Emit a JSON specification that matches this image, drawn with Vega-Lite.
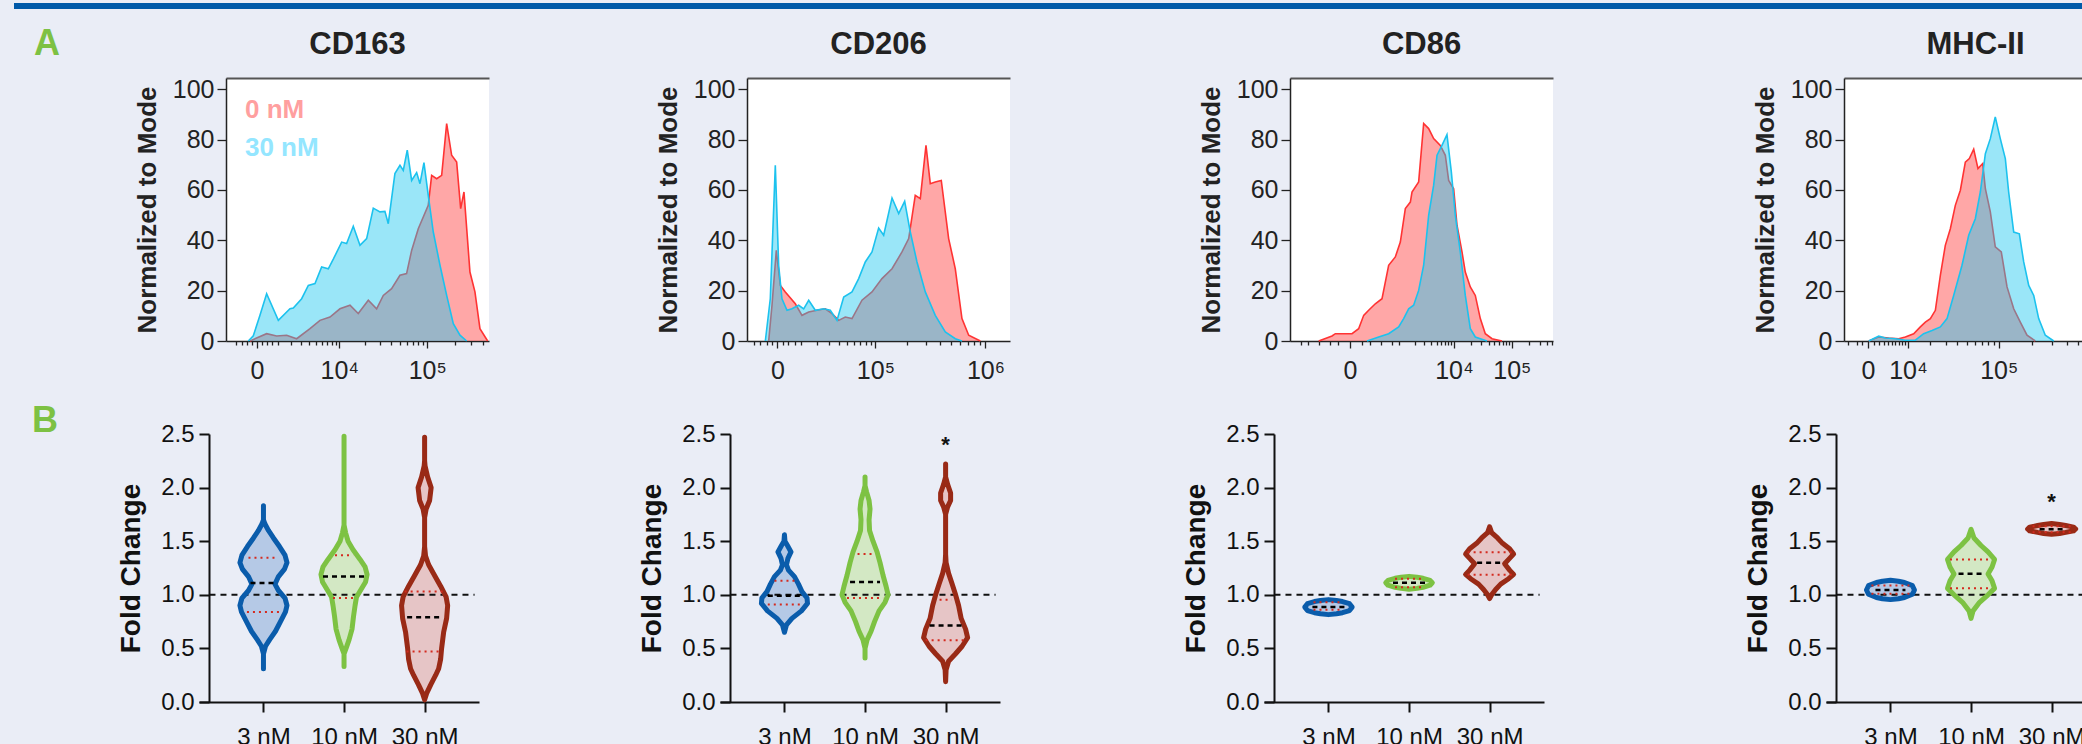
{
"$schema": "https://vega.github.io/schema/vega-lite/v6.json",
"background": "#EAEDF6",
"padding": {"left": 14, "top": 0, "right": 0, "bottom": 0},
"config": {"view": {"stroke": null}, "axis": {"grid": false}, "font": "Liberation Sans"},
"datasets": {
"hist": [
{"m":"CD163","s":"0 nM","x":-284,"y":0},{"m":"CD163","s":"0 nM","x":405,"y":2.9},{"m":"CD163","s":"0 nM","x":941,"y":2.0},{"m":"CD163","s":"0 nM","x":1626,"y":2.3},{"m":"CD163","s":"0 nM","x":2505,"y":0.9},{"m":"CD163","s":"0 nM","x":4070,"y":4.9},{"m":"CD163","s":"0 nM","x":5632,"y":8.2},{"m":"CD163","s":"0 nM","x":7638,"y":9.5},{"m":"CD163","s":"0 nM","x":10200,"y":12.8},{"m":"CD163","s":"0 nM","x":13500,"y":14.2},{"m":"CD163","s":"0 nM","x":16900,"y":10.9},{"m":"CD163","s":"0 nM","x":22100,"y":16.2},{"m":"CD163","s":"0 nM","x":27500,"y":12.8},{"m":"CD163","s":"0 nM","x":32700,"y":18.1},{"m":"CD163","s":"0 nM","x":40500,"y":20.8},{"m":"CD163","s":"0 nM","x":50200,"y":26.1},{"m":"CD163","s":"0 nM","x":59400,"y":26.8},{"m":"CD163","s":"0 nM","x":67500,"y":36.0},{"m":"CD163","s":"0 nM","x":79800,"y":44.6},{"m":"CD163","s":"0 nM","x":102600,"y":53.9},{"m":"CD163","s":"0 nM","x":111700,"y":65.8},{"m":"CD163","s":"0 nM","x":126700,"y":64.5},{"m":"CD163","s":"0 nM","x":143600,"y":65.8},{"m":"CD163","s":"0 nM","x":162700,"y":86.4},{"m":"CD163","s":"0 nM","x":184300,"y":73.8},{"m":"CD163","s":"0 nM","x":208800,"y":71.1},{"m":"CD163","s":"0 nM","x":230700,"y":52.6},{"m":"CD163","s":"0 nM","x":250500,"y":59.2},{"m":"CD163","s":"0 nM","x":290700,"y":27.4},{"m":"CD163","s":"0 nM","x":329200,"y":19.5},{"m":"CD163","s":"0 nM","x":372900,"y":4.9},{"m":"CD163","s":"0 nM","x":451500,"y":0},
{"m":"CD163","s":"30 nM","x":-360,"y":0},{"m":"CD163","s":"30 nM","x":-143,"y":2.1},{"m":"CD163","s":"30 nM","x":115,"y":10.2},{"m":"CD163","s":"30 nM","x":405,"y":18.8},{"m":"CD163","s":"30 nM","x":1044,"y":8.2},{"m":"CD163","s":"30 nM","x":1895,"y":12.8},{"m":"CD163","s":"30 nM","x":2186,"y":13.1},{"m":"CD163","s":"30 nM","x":3033,"y":16.8},{"m":"CD163","s":"30 nM","x":3846,"y":22.1},{"m":"CD163","s":"30 nM","x":4805,"y":22.8},{"m":"CD163","s":"30 nM","x":5937,"y":29.4},{"m":"CD163","s":"30 nM","x":7271,"y":28.7},{"m":"CD163","s":"30 nM","x":8420,"y":32.5},{"m":"CD163","s":"30 nM","x":10700,"y":39.3},{"m":"CD163","s":"30 nM","x":12300,"y":38.7},{"m":"CD163","s":"30 nM","x":14770,"y":45.6},{"m":"CD163","s":"30 nM","x":17700,"y":38.0},{"m":"CD163","s":"30 nM","x":21150,"y":40.7},{"m":"CD163","s":"30 nM","x":25200,"y":52.8},{"m":"CD163","s":"30 nM","x":30000,"y":51.3},{"m":"CD163","s":"30 nM","x":34100,"y":51.5},{"m":"CD163","s":"30 nM","x":37200,"y":46.6},{"m":"CD163","s":"30 nM","x":44100,"y":66.5},{"m":"CD163","s":"30 nM","x":50200,"y":69.8},{"m":"CD163","s":"30 nM","x":54600,"y":67.8},{"m":"CD163","s":"30 nM","x":60400,"y":75.8},{"m":"CD163","s":"30 nM","x":67500,"y":63.8},{"m":"CD163","s":"30 nM","x":76600,"y":66.9},{"m":"CD163","s":"30 nM","x":83300,"y":62.5},{"m":"CD163","s":"30 nM","x":92100,"y":70.9},{"m":"CD163","s":"30 nM","x":102600,"y":57.9},{"m":"CD163","s":"30 nM","x":116400,"y":43.3},{"m":"CD163","s":"30 nM","x":137700,"y":30.1},{"m":"CD163","s":"30 nM","x":162700,"y":18.1},{"m":"CD163","s":"30 nM","x":192000,"y":6.9},{"m":"CD163","s":"30 nM","x":226800,"y":2.3},{"m":"CD163","s":"30 nM","x":267800,"y":0},
{"m":"CD206","s":"0 nM","x":-3230,"y":0},{"m":"CD206","s":"0 nM","x":-1950,"y":14.2},{"m":"CD206","s":"0 nM","x":-400,"y":36.0},{"m":"CD206","s":"0 nM","x":985,"y":22.1},{"m":"CD206","s":"0 nM","x":2840,"y":19.5},{"m":"CD206","s":"0 nM","x":7170,"y":14.8},{"m":"CD206","s":"0 nM","x":10570,"y":10.2},{"m":"CD206","s":"0 nM","x":14470,"y":11.5},{"m":"CD206","s":"0 nM","x":20060,"y":12.2},{"m":"CD206","s":"0 nM","x":26620,"y":12.8},{"m":"CD206","s":"0 nM","x":32800,"y":10.9},{"m":"CD206","s":"0 nM","x":39790,"y":8.2},{"m":"CD206","s":"0 nM","x":47690,"y":9.5},{"m":"CD206","s":"0 nM","x":56830,"y":8.9},{"m":"CD206","s":"0 nM","x":72830,"y":16.2},{"m":"CD206","s":"0 nM","x":92410,"y":19.5},{"m":"CD206","s":"0 nM","x":116100,"y":24.8},{"m":"CD206","s":"0 nM","x":145200,"y":28.7},{"m":"CD206","s":"0 nM","x":180300,"y":35.4},{"m":"CD206","s":"0 nM","x":208100,"y":40.7},{"m":"CD206","s":"0 nM","x":239100,"y":57.9},{"m":"CD206","s":"0 nM","x":265800,"y":56.6},{"m":"CD206","s":"0 nM","x":299200,"y":77.7},{"m":"CD206","s":"0 nM","x":327100,"y":62.5},{"m":"CD206","s":"0 nM","x":362500,"y":63.2},{"m":"CD206","s":"0 nM","x":410000,"y":63.8},{"m":"CD206","s":"0 nM","x":476600,"y":40.7},{"m":"CD206","s":"0 nM","x":545500,"y":28.7},{"m":"CD206","s":"0 nM","x":624200,"y":8.9},{"m":"CD206","s":"0 nM","x":714800,"y":2.3},{"m":"CD206","s":"0 nM","x":902900,"y":0},
{"m":"CD206","s":"30 nM","x":-4620,"y":0},{"m":"CD206","s":"30 nM","x":-2600,"y":16.8},{"m":"CD206","s":"30 nM","x":-750,"y":69.8},{"m":"CD206","s":"30 nM","x":400,"y":30.1},{"m":"CD206","s":"30 nM","x":1575,"y":16.8},{"m":"CD206","s":"30 nM","x":3510,"y":12.2},{"m":"CD206","s":"30 nM","x":5640,"y":12.8},{"m":"CD206","s":"30 nM","x":8820,"y":14.2},{"m":"CD206","s":"30 nM","x":11510,"y":12.8},{"m":"CD206","s":"30 nM","x":14470,"y":16.2},{"m":"CD206","s":"30 nM","x":18850,"y":12.2},{"m":"CD206","s":"30 nM","x":25290,"y":12.8},{"m":"CD206","s":"30 nM","x":31140,"y":12.2},{"m":"CD206","s":"30 nM","x":37950,"y":8.2},{"m":"CD206","s":"30 nM","x":45710,"y":17.5},{"m":"CD206","s":"30 nM","x":56830,"y":19.5},{"m":"CD206","s":"30 nM","x":67170,"y":24.8},{"m":"CD206","s":"30 nM","x":78870,"y":31.4},{"m":"CD206","s":"30 nM","x":92410,"y":35.4},{"m":"CD206","s":"30 nM","x":107700,"y":44.9},{"m":"CD206","s":"30 nM","x":120600,"y":42.0},{"m":"CD206","s":"30 nM","x":145200,"y":56.8},{"m":"CD206","s":"30 nM","x":167900,"y":50.6},{"m":"CD206","s":"30 nM","x":191000,"y":55.5},{"m":"CD206","s":"30 nM","x":215300,"y":43.3},{"m":"CD206","s":"30 nM","x":247900,"y":31.4},{"m":"CD206","s":"30 nM","x":295000,"y":19.5},{"m":"CD206","s":"30 nM","x":362500,"y":10.2},{"m":"CD206","s":"30 nM","x":445100,"y":3.6},{"m":"CD206","s":"30 nM","x":545500,"y":0.9},{"m":"CD206","s":"30 nM","x":624200,"y":0},
{"m":"CD86","s":"0 nM","x":-409,"y":0},{"m":"CD86","s":"0 nM","x":-173,"y":2.0},{"m":"CD86","s":"0 nM","x":-131,"y":2.9},{"m":"CD86","s":"0 nM","x":14,"y":2.9},{"m":"CD86","s":"0 nM","x":68,"y":4.9},{"m":"CD86","s":"0 nM","x":120,"y":10.2},{"m":"CD86","s":"0 nM","x":182,"y":12.2},{"m":"CD86","s":"0 nM","x":287,"y":14.8},{"m":"CD86","s":"0 nM","x":425,"y":16.8},{"m":"CD86","s":"0 nM","x":603,"y":30.1},{"m":"CD86","s":"0 nM","x":835,"y":33.4},{"m":"CD86","s":"0 nM","x":1054,"y":39.3},{"m":"CD86","s":"0 nM","x":1321,"y":52.6},{"m":"CD86","s":"0 nM","x":1647,"y":55.2},{"m":"CD86","s":"0 nM","x":1770,"y":59.2},{"m":"CD86","s":"0 nM","x":2353,"y":63.2},{"m":"CD86","s":"0 nM","x":2904,"y":86.4},{"m":"CD86","s":"0 nM","x":3574,"y":84.4},{"m":"CD86","s":"0 nM","x":4392,"y":80.4},{"m":"CD86","s":"0 nM","x":5762,"y":77.7},{"m":"CD86","s":"0 nM","x":7064,"y":73.8},{"m":"CD86","s":"0 nM","x":8083,"y":63.8},{"m":"CD86","s":"0 nM","x":9886,"y":60.5},{"m":"CD86","s":"0 nM","x":11306,"y":46.0},{"m":"CD86","s":"0 nM","x":13810,"y":35.4},{"m":"CD86","s":"0 nM","x":15760,"y":27.4},{"m":"CD86","s":"0 nM","x":19250,"y":21.5},{"m":"CD86","s":"0 nM","x":23480,"y":18.1},{"m":"CD86","s":"0 nM","x":28660,"y":8.9},{"m":"CD86","s":"0 nM","x":34940,"y":2.9},{"m":"CD86","s":"0 nM","x":45660,"y":0.9},{"m":"CD86","s":"0 nM","x":67750,"y":0},
{"m":"CD86","s":"30 nM","x":160,"y":0},{"m":"CD86","s":"30 nM","x":352,"y":1.6},{"m":"CD86","s":"30 nM","x":603,"y":2.9},{"m":"CD86","s":"30 nM","x":976,"y":5.6},{"m":"CD86","s":"30 nM","x":1226,"y":8.9},{"m":"CD86","s":"30 nM","x":1530,"y":12.8},{"m":"CD86","s":"30 nM","x":1900,"y":14.2},{"m":"CD86","s":"30 nM","x":2353,"y":20.1},{"m":"CD86","s":"30 nM","x":2904,"y":30.1},{"m":"CD86","s":"30 nM","x":3574,"y":49.9},{"m":"CD86","s":"30 nM","x":4392,"y":61.9},{"m":"CD86","s":"30 nM","x":5043,"y":73.8},{"m":"CD86","s":"30 nM","x":6162,"y":77.7},{"m":"CD86","s":"30 nM","x":7548,"y":82.0},{"m":"CD86","s":"30 nM","x":9001,"y":67.2},{"m":"CD86","s":"30 nM","x":10570,"y":49.9},{"m":"CD86","s":"30 nM","x":12900,"y":35.4},{"m":"CD86","s":"30 nM","x":15760,"y":18.1},{"m":"CD86","s":"30 nM","x":19250,"y":4.9},{"m":"CD86","s":"30 nM","x":23480,"y":1.6},{"m":"CD86","s":"30 nM","x":37360,"y":0},
{"m":"MHC-II","s":"0 nM","x":111,"y":0},{"m":"MHC-II","s":"0 nM","x":1960,"y":1.6},{"m":"MHC-II","s":"0 nM","x":4207,"y":1.2},{"m":"MHC-II","s":"0 nM","x":6935,"y":0.9},{"m":"MHC-II","s":"0 nM","x":9070,"y":1.6},{"m":"MHC-II","s":"0 nM","x":12160,"y":2.9},{"m":"MHC-II","s":"0 nM","x":15030,"y":5.6},{"m":"MHC-II","s":"0 nM","x":17440,"y":7.5},{"m":"MHC-II","s":"0 nM","x":20090,"y":8.9},{"m":"MHC-II","s":"0 nM","x":23020,"y":12.2},{"m":"MHC-II","s":"0 nM","x":26240,"y":26.1},{"m":"MHC-II","s":"0 nM","x":29770,"y":38.0},{"m":"MHC-II","s":"0 nM","x":33710,"y":44.6},{"m":"MHC-II","s":"0 nM","x":38010,"y":53.9},{"m":"MHC-II","s":"0 nM","x":42800,"y":59.9},{"m":"MHC-II","s":"0 nM","x":48020,"y":71.1},{"m":"MHC-II","s":"0 nM","x":52600,"y":72.5},{"m":"MHC-II","s":"0 nM","x":58020,"y":76.2},{"m":"MHC-II","s":"0 nM","x":63820,"y":68.5},{"m":"MHC-II","s":"0 nM","x":70850,"y":70.5},{"m":"MHC-II","s":"0 nM","x":75000,"y":60.5},{"m":"MHC-II","s":"0 nM","x":83480,"y":51.3},{"m":"MHC-II","s":"0 nM","x":92800,"y":37.4},{"m":"MHC-II","s":"0 nM","x":105400,"y":35.4},{"m":"MHC-II","s":"0 nM","x":118900,"y":21.5},{"m":"MHC-II","s":"0 nM","x":136600,"y":12.8},{"m":"MHC-II","s":"0 nM","x":156500,"y":7.5},{"m":"MHC-II","s":"0 nM","x":179500,"y":2.3},{"m":"MHC-II","s":"0 nM","x":212600,"y":0},
{"m":"MHC-II","s":"30 nM","x":111,"y":0},{"m":"MHC-II","s":"30 nM","x":1960,"y":1.9},{"m":"MHC-II","s":"30 nM","x":3407,"y":1.2},{"m":"MHC-II","s":"30 nM","x":5966,"y":0.9},{"m":"MHC-II","s":"30 nM","x":9070,"y":0.3},{"m":"MHC-II","s":"30 nM","x":12850,"y":0.3},{"m":"MHC-II","s":"30 nM","x":16600,"y":2.9},{"m":"MHC-II","s":"30 nM","x":21040,"y":4.2},{"m":"MHC-II","s":"30 nM","x":26240,"y":5.6},{"m":"MHC-II","s":"30 nM","x":31060,"y":8.9},{"m":"MHC-II","s":"30 nM","x":36540,"y":18.1},{"m":"MHC-II","s":"30 nM","x":44470,"y":30.1},{"m":"MHC-II","s":"30 nM","x":51870,"y":42.0},{"m":"MHC-II","s":"30 nM","x":60170,"y":48.6},{"m":"MHC-II","s":"30 nM","x":67210,"y":59.2},{"m":"MHC-II","s":"30 nM","x":75000,"y":74.4},{"m":"MHC-II","s":"30 nM","x":83480,"y":80.4},{"m":"MHC-II","s":"30 nM","x":92800,"y":89.0},{"m":"MHC-II","s":"30 nM","x":103200,"y":80.4},{"m":"MHC-II","s":"30 nM","x":114700,"y":72.5},{"m":"MHC-II","s":"30 nM","x":123000,"y":59.2},{"m":"MHC-II","s":"30 nM","x":136600,"y":43.3},{"m":"MHC-II","s":"30 nM","x":153400,"y":42.6},{"m":"MHC-II","s":"30 nM","x":167800,"y":31.4},{"m":"MHC-II","s":"30 nM","x":185900,"y":22.1},{"m":"MHC-II","s":"30 nM","x":205800,"y":18.1},{"m":"MHC-II","s":"30 nM","x":227600,"y":8.9},{"m":"MHC-II","s":"30 nM","x":260100,"y":2.3},{"m":"MHC-II","s":"30 nM","x":308000,"y":0}
],
"vio": [
{"m":"CD163","c":"3 nM","fc":0.31,"lo":1,"hi":1},{"m":"CD163","c":"3 nM","fc":0.45,"lo":1,"hi":1},{"m":"CD163","c":"3 nM","fc":0.52,"lo":0.975,"hi":1.025},{"m":"CD163","c":"3 nM","fc":0.58,"lo":0.925,"hi":1.075},{"m":"CD163","c":"3 nM","fc":0.66,"lo":0.851,"hi":1.149},{"m":"CD163","c":"3 nM","fc":0.75,"lo":0.789,"hi":1.211},{"m":"CD163","c":"3 nM","fc":0.84,"lo":0.727,"hi":1.273},{"m":"CD163","c":"3 nM","fc":0.90,"lo":0.708,"hi":1.292},{"m":"CD163","c":"3 nM","fc":0.97,"lo":0.733,"hi":1.267},{"m":"CD163","c":"3 nM","fc":1.04,"lo":0.814,"hi":1.186},{"m":"CD163","c":"3 nM","fc":1.10,"lo":0.857,"hi":1.143},{"m":"CD163","c":"3 nM","fc":1.17,"lo":0.814,"hi":1.186},{"m":"CD163","c":"3 nM","fc":1.24,"lo":0.739,"hi":1.261},{"m":"CD163","c":"3 nM","fc":1.30,"lo":0.708,"hi":1.292},{"m":"CD163","c":"3 nM","fc":1.37,"lo":0.733,"hi":1.267},{"m":"CD163","c":"3 nM","fc":1.45,"lo":0.801,"hi":1.199},{"m":"CD163","c":"3 nM","fc":1.53,"lo":0.876,"hi":1.124},{"m":"CD163","c":"3 nM","fc":1.60,"lo":0.938,"hi":1.062},{"m":"CD163","c":"3 nM","fc":1.66,"lo":0.981,"hi":1.019},{"m":"CD163","c":"3 nM","fc":1.70,"lo":1,"hi":1},{"m":"CD163","c":"3 nM","fc":1.83,"lo":1,"hi":1},
{"m":"CD163","c":"10 nM","fc":0.33,"lo":2,"hi":2},{"m":"CD163","c":"10 nM","fc":0.45,"lo":2,"hi":2},{"m":"CD163","c":"10 nM","fc":0.50,"lo":1.975,"hi":2.025},{"m":"CD163","c":"10 nM","fc":0.58,"lo":1.938,"hi":2.062},{"m":"CD163","c":"10 nM","fc":0.68,"lo":1.901,"hi":2.099},{"m":"CD163","c":"10 nM","fc":0.80,"lo":1.882,"hi":2.118},{"m":"CD163","c":"10 nM","fc":0.90,"lo":1.863,"hi":2.137},{"m":"CD163","c":"10 nM","fc":0.98,"lo":1.845,"hi":2.155},{"m":"CD163","c":"10 nM","fc":1.05,"lo":1.789,"hi":2.211},{"m":"CD163","c":"10 nM","fc":1.12,"lo":1.733,"hi":2.267},{"m":"CD163","c":"10 nM","fc":1.19,"lo":1.714,"hi":2.286},{"m":"CD163","c":"10 nM","fc":1.26,"lo":1.739,"hi":2.261},{"m":"CD163","c":"10 nM","fc":1.33,"lo":1.801,"hi":2.199},{"m":"CD163","c":"10 nM","fc":1.42,"lo":1.888,"hi":2.112},{"m":"CD163","c":"10 nM","fc":1.50,"lo":1.950,"hi":2.050},{"m":"CD163","c":"10 nM","fc":1.58,"lo":1.981,"hi":2.019},{"m":"CD163","c":"10 nM","fc":1.65,"lo":2,"hi":2},{"m":"CD163","c":"10 nM","fc":2.48,"lo":2,"hi":2},
{"m":"CD163","c":"30 nM","fc":0.02,"lo":3,"hi":3},{"m":"CD163","c":"30 nM","fc":0.08,"lo":2.975,"hi":3.025},{"m":"CD163","c":"30 nM","fc":0.16,"lo":2.925,"hi":3.075},{"m":"CD163","c":"30 nM","fc":0.25,"lo":2.863,"hi":3.137},{"m":"CD163","c":"30 nM","fc":0.31,"lo":2.826,"hi":3.174},{"m":"CD163","c":"30 nM","fc":0.40,"lo":2.801,"hi":3.199},{"m":"CD163","c":"30 nM","fc":0.50,"lo":2.789,"hi":3.211},{"m":"CD163","c":"30 nM","fc":0.65,"lo":2.764,"hi":3.236},{"m":"CD163","c":"30 nM","fc":0.78,"lo":2.727,"hi":3.273},{"m":"CD163","c":"30 nM","fc":0.90,"lo":2.714,"hi":3.286},{"m":"CD163","c":"30 nM","fc":0.98,"lo":2.733,"hi":3.267},{"m":"CD163","c":"30 nM","fc":1.08,"lo":2.801,"hi":3.199},{"m":"CD163","c":"30 nM","fc":1.18,"lo":2.876,"hi":3.124},{"m":"CD163","c":"30 nM","fc":1.28,"lo":2.950,"hi":3.050},{"m":"CD163","c":"30 nM","fc":1.36,"lo":2.988,"hi":3.012},{"m":"CD163","c":"30 nM","fc":1.45,"lo":3,"hi":3},{"m":"CD163","c":"30 nM","fc":1.72,"lo":3,"hi":3},{"m":"CD163","c":"30 nM","fc":1.80,"lo":2.981,"hi":3.019},{"m":"CD163","c":"30 nM","fc":1.88,"lo":2.938,"hi":3.062},{"m":"CD163","c":"30 nM","fc":2.00,"lo":2.919,"hi":3.081},{"m":"CD163","c":"30 nM","fc":2.10,"lo":2.963,"hi":3.037},{"m":"CD163","c":"30 nM","fc":2.20,"lo":2.994,"hi":3.006},{"m":"CD163","c":"30 nM","fc":2.25,"lo":3,"hi":3},{"m":"CD163","c":"30 nM","fc":2.47,"lo":3,"hi":3},
{"m":"CD206","c":"3 nM","fc":0.65,"lo":1,"hi":1},{"m":"CD206","c":"3 nM","fc":0.72,"lo":0.975,"hi":1.025},{"m":"CD206","c":"3 nM","fc":0.78,"lo":0.907,"hi":1.093},{"m":"CD206","c":"3 nM","fc":0.85,"lo":0.789,"hi":1.211},{"m":"CD206","c":"3 nM","fc":0.92,"lo":0.714,"hi":1.286},{"m":"CD206","c":"3 nM","fc":0.97,"lo":0.720,"hi":1.280},{"m":"CD206","c":"3 nM","fc":1.03,"lo":0.783,"hi":1.217},{"m":"CD206","c":"3 nM","fc":1.10,"lo":0.826,"hi":1.174},{"m":"CD206","c":"3 nM","fc":1.17,"lo":0.876,"hi":1.124},{"m":"CD206","c":"3 nM","fc":1.23,"lo":0.950,"hi":1.050},{"m":"CD206","c":"3 nM","fc":1.28,"lo":0.975,"hi":1.025},{"m":"CD206","c":"3 nM","fc":1.34,"lo":0.957,"hi":1.043},{"m":"CD206","c":"3 nM","fc":1.40,"lo":0.919,"hi":1.081},{"m":"CD206","c":"3 nM","fc":1.46,"lo":0.963,"hi":1.037},{"m":"CD206","c":"3 nM","fc":1.50,"lo":0.994,"hi":1.006},{"m":"CD206","c":"3 nM","fc":1.56,"lo":1,"hi":1},
{"m":"CD206","c":"10 nM","fc":0.41,"lo":2,"hi":2},{"m":"CD206","c":"10 nM","fc":0.50,"lo":2,"hi":2},{"m":"CD206","c":"10 nM","fc":0.58,"lo":1.975,"hi":2.025},{"m":"CD206","c":"10 nM","fc":0.66,"lo":1.925,"hi":2.075},{"m":"CD206","c":"10 nM","fc":0.75,"lo":1.882,"hi":2.118},{"m":"CD206","c":"10 nM","fc":0.85,"lo":1.826,"hi":2.174},{"m":"CD206","c":"10 nM","fc":0.93,"lo":1.752,"hi":2.248},{"m":"CD206","c":"10 nM","fc":1.00,"lo":1.714,"hi":2.286},{"m":"CD206","c":"10 nM","fc":1.08,"lo":1.739,"hi":2.261},{"m":"CD206","c":"10 nM","fc":1.18,"lo":1.776,"hi":2.224},{"m":"CD206","c":"10 nM","fc":1.30,"lo":1.814,"hi":2.186},{"m":"CD206","c":"10 nM","fc":1.40,"lo":1.851,"hi":2.149},{"m":"CD206","c":"10 nM","fc":1.50,"lo":1.901,"hi":2.099},{"m":"CD206","c":"10 nM","fc":1.60,"lo":1.944,"hi":2.056},{"m":"CD206","c":"10 nM","fc":1.70,"lo":1.950,"hi":2.050},{"m":"CD206","c":"10 nM","fc":1.80,"lo":1.938,"hi":2.062},{"m":"CD206","c":"10 nM","fc":1.88,"lo":1.950,"hi":2.050},{"m":"CD206","c":"10 nM","fc":1.96,"lo":1.981,"hi":2.019},{"m":"CD206","c":"10 nM","fc":2.02,"lo":2,"hi":2},{"m":"CD206","c":"10 nM","fc":2.10,"lo":2,"hi":2},
{"m":"CD206","c":"30 nM","fc":0.19,"lo":3,"hi":3},{"m":"CD206","c":"30 nM","fc":0.30,"lo":2.994,"hi":3.006},{"m":"CD206","c":"30 nM","fc":0.38,"lo":2.963,"hi":3.037},{"m":"CD206","c":"30 nM","fc":0.45,"lo":2.876,"hi":3.124},{"m":"CD206","c":"30 nM","fc":0.52,"lo":2.795,"hi":3.205},{"m":"CD206","c":"30 nM","fc":0.60,"lo":2.727,"hi":3.273},{"m":"CD206","c":"30 nM","fc":0.68,"lo":2.752,"hi":3.248},{"m":"CD206","c":"30 nM","fc":0.78,"lo":2.807,"hi":3.193},{"m":"CD206","c":"30 nM","fc":0.90,"lo":2.839,"hi":3.161},{"m":"CD206","c":"30 nM","fc":1.00,"lo":2.876,"hi":3.124},{"m":"CD206","c":"30 nM","fc":1.10,"lo":2.919,"hi":3.081},{"m":"CD206","c":"30 nM","fc":1.20,"lo":2.963,"hi":3.037},{"m":"CD206","c":"30 nM","fc":1.30,"lo":2.994,"hi":3.006},{"m":"CD206","c":"30 nM","fc":1.38,"lo":3,"hi":3},{"m":"CD206","c":"30 nM","fc":1.75,"lo":3,"hi":3},{"m":"CD206","c":"30 nM","fc":1.82,"lo":2.975,"hi":3.025},{"m":"CD206","c":"30 nM","fc":1.88,"lo":2.938,"hi":3.062},{"m":"CD206","c":"30 nM","fc":1.95,"lo":2.938,"hi":3.062},{"m":"CD206","c":"30 nM","fc":2.03,"lo":2.975,"hi":3.025},{"m":"CD206","c":"30 nM","fc":2.10,"lo":3,"hi":3},{"m":"CD206","c":"30 nM","fc":2.22,"lo":3,"hi":3},
{"m":"CD86","c":"3 nM","fc":0.815,"lo":1,"hi":1},{"m":"CD86","c":"3 nM","fc":0.823,"lo":0.901,"hi":1.099},{"m":"CD86","c":"3 nM","fc":0.833,"lo":0.826,"hi":1.174},{"m":"CD86","c":"3 nM","fc":0.853,"lo":0.739,"hi":1.261},{"m":"CD86","c":"3 nM","fc":0.885,"lo":0.706,"hi":1.294},{"m":"CD86","c":"3 nM","fc":0.917,"lo":0.739,"hi":1.261},{"m":"CD86","c":"3 nM","fc":0.937,"lo":0.826,"hi":1.174},{"m":"CD86","c":"3 nM","fc":0.947,"lo":0.901,"hi":1.099},{"m":"CD86","c":"3 nM","fc":0.955,"lo":1,"hi":1},
{"m":"CD86","c":"10 nM","fc":1.052,"lo":2,"hi":2},{"m":"CD86","c":"10 nM","fc":1.06,"lo":1.901,"hi":2.099},{"m":"CD86","c":"10 nM","fc":1.07,"lo":1.826,"hi":2.174},{"m":"CD86","c":"10 nM","fc":1.09,"lo":1.739,"hi":2.261},{"m":"CD86","c":"10 nM","fc":1.112,"lo":1.711,"hi":2.289},{"m":"CD86","c":"10 nM","fc":1.134,"lo":1.739,"hi":2.261},{"m":"CD86","c":"10 nM","fc":1.154,"lo":1.826,"hi":2.174},{"m":"CD86","c":"10 nM","fc":1.164,"lo":1.901,"hi":2.099},{"m":"CD86","c":"10 nM","fc":1.172,"lo":2,"hi":2},
{"m":"CD86","c":"30 nM","fc":0.965,"lo":3,"hi":3},{"m":"CD86","c":"30 nM","fc":1.00,"lo":2.975,"hi":3.025},{"m":"CD86","c":"30 nM","fc":1.05,"lo":2.925,"hi":3.075},{"m":"CD86","c":"30 nM","fc":1.10,"lo":2.863,"hi":3.137},{"m":"CD86","c":"30 nM","fc":1.15,"lo":2.764,"hi":3.236},{"m":"CD86","c":"30 nM","fc":1.19,"lo":2.702,"hi":3.298},{"m":"CD86","c":"30 nM","fc":1.23,"lo":2.752,"hi":3.248},{"m":"CD86","c":"30 nM","fc":1.29,"lo":2.814,"hi":3.186},{"m":"CD86","c":"30 nM","fc":1.34,"lo":2.752,"hi":3.248},{"m":"CD86","c":"30 nM","fc":1.38,"lo":2.702,"hi":3.298},{"m":"CD86","c":"30 nM","fc":1.43,"lo":2.752,"hi":3.248},{"m":"CD86","c":"30 nM","fc":1.48,"lo":2.839,"hi":3.161},{"m":"CD86","c":"30 nM","fc":1.53,"lo":2.901,"hi":3.099},{"m":"CD86","c":"30 nM","fc":1.58,"lo":2.975,"hi":3.025},{"m":"CD86","c":"30 nM","fc":1.635,"lo":3,"hi":3},
{"m":"MHC-II","c":"3 nM","fc":0.955,"lo":1,"hi":1},{"m":"MHC-II","c":"3 nM","fc":0.963,"lo":0.901,"hi":1.099},{"m":"MHC-II","c":"3 nM","fc":0.975,"lo":0.826,"hi":1.174},{"m":"MHC-II","c":"3 nM","fc":1.005,"lo":0.727,"hi":1.273},{"m":"MHC-II","c":"3 nM","fc":1.045,"lo":0.702,"hi":1.298},{"m":"MHC-II","c":"3 nM","fc":1.085,"lo":0.727,"hi":1.273},{"m":"MHC-II","c":"3 nM","fc":1.115,"lo":0.826,"hi":1.174},{"m":"MHC-II","c":"3 nM","fc":1.127,"lo":0.901,"hi":1.099},{"m":"MHC-II","c":"3 nM","fc":1.135,"lo":1,"hi":1},
{"m":"MHC-II","c":"10 nM","fc":0.78,"lo":2,"hi":2},{"m":"MHC-II","c":"10 nM","fc":0.85,"lo":1.975,"hi":2.025},{"m":"MHC-II","c":"10 nM","fc":0.93,"lo":1.894,"hi":2.106},{"m":"MHC-II","c":"10 nM","fc":1.00,"lo":1.789,"hi":2.211},{"m":"MHC-II","c":"10 nM","fc":1.06,"lo":1.708,"hi":2.292},{"m":"MHC-II","c":"10 nM","fc":1.13,"lo":1.739,"hi":2.261},{"m":"MHC-II","c":"10 nM","fc":1.195,"lo":1.789,"hi":2.211},{"m":"MHC-II","c":"10 nM","fc":1.26,"lo":1.739,"hi":2.261},{"m":"MHC-II","c":"10 nM","fc":1.33,"lo":1.708,"hi":2.292},{"m":"MHC-II","c":"10 nM","fc":1.40,"lo":1.789,"hi":2.211},{"m":"MHC-II","c":"10 nM","fc":1.46,"lo":1.876,"hi":2.124},{"m":"MHC-II","c":"10 nM","fc":1.53,"lo":1.963,"hi":2.037},{"m":"MHC-II","c":"10 nM","fc":1.61,"lo":2,"hi":2},
{"m":"MHC-II","c":"30 nM","fc":1.565,"lo":3,"hi":3},{"m":"MHC-II","c":"30 nM","fc":1.572,"lo":2.901,"hi":3.099},{"m":"MHC-II","c":"30 nM","fc":1.582,"lo":2.826,"hi":3.174},{"m":"MHC-II","c":"30 nM","fc":1.597,"lo":2.727,"hi":3.273},{"m":"MHC-II","c":"30 nM","fc":1.614,"lo":2.702,"hi":3.298},{"m":"MHC-II","c":"30 nM","fc":1.631,"lo":2.727,"hi":3.273},{"m":"MHC-II","c":"30 nM","fc":1.646,"lo":2.826,"hi":3.174},{"m":"MHC-II","c":"30 nM","fc":1.656,"lo":2.901,"hi":3.099},{"m":"MHC-II","c":"30 nM","fc":1.665,"lo":3,"hi":3}
],
"stat": [
{"m":"CD163","c":"3 nM","k":"med","fc":1.11,"lo":0.839,"hi":1.161},{"m":"CD163","c":"3 nM","k":"q","fc":1.345,"lo":0.814,"hi":1.186},{"m":"CD163","c":"3 nM","k":"q","fc":0.84,"lo":0.795,"hi":1.205},
{"m":"CD163","c":"10 nM","k":"med","fc":1.17,"lo":1.739,"hi":2.261},{"m":"CD163","c":"10 nM","k":"q","fc":1.37,"lo":1.888,"hi":2.112},{"m":"CD163","c":"10 nM","k":"q","fc":0.97,"lo":1.863,"hi":2.137},
{"m":"CD163","c":"30 nM","k":"med","fc":0.79,"lo":2.783,"hi":3.217},{"m":"CD163","c":"30 nM","k":"q","fc":1.03,"lo":2.752,"hi":3.248},{"m":"CD163","c":"30 nM","k":"q","fc":0.47,"lo":2.776,"hi":3.224},
{"m":"CD206","c":"3 nM","k":"med","fc":0.99,"lo":0.793,"hi":1.207},{"m":"CD206","c":"3 nM","k":"q","fc":1.13,"lo":0.876,"hi":1.124},{"m":"CD206","c":"3 nM","k":"q","fc":0.91,"lo":0.793,"hi":1.207},
{"m":"CD206","c":"10 nM","k":"med","fc":1.12,"lo":1.814,"hi":2.186},{"m":"CD206","c":"10 nM","k":"q","fc":1.38,"lo":1.907,"hi":2.093},{"m":"CD206","c":"10 nM","k":"q","fc":0.97,"lo":1.776,"hi":2.224},
{"m":"CD206","c":"30 nM","k":"med","fc":0.714,"lo":2.801,"hi":3.199},{"m":"CD206","c":"30 nM","k":"q","fc":0.953,"lo":2.925,"hi":3.075},{"m":"CD206","c":"30 nM","k":"q","fc":0.575,"lo":2.752,"hi":3.248},
{"m":"CD86","c":"3 nM","k":"med","fc":0.887,"lo":0.801,"hi":1.199},{"m":"CD86","c":"3 nM","k":"q","fc":0.93,"lo":0.814,"hi":1.186},{"m":"CD86","c":"3 nM","k":"q","fc":0.86,"lo":0.814,"hi":1.186},
{"m":"CD86","c":"10 nM","k":"med","fc":1.112,"lo":1.801,"hi":2.199},{"m":"CD86","c":"10 nM","k":"q","fc":1.149,"lo":1.826,"hi":2.174},{"m":"CD86","c":"10 nM","k":"q","fc":1.071,"lo":1.826,"hi":2.174},
{"m":"CD86","c":"30 nM","k":"med","fc":1.298,"lo":2.845,"hi":3.155},{"m":"CD86","c":"30 nM","k":"q","fc":1.398,"lo":2.727,"hi":3.273},{"m":"CD86","c":"30 nM","k":"q","fc":1.186,"lo":2.727,"hi":3.273},
{"m":"MHC-II","c":"3 nM","k":"med","fc":1.045,"lo":0.814,"hi":1.186},{"m":"MHC-II","c":"3 nM","k":"q","fc":1.087,"lo":0.764,"hi":1.236},{"m":"MHC-II","c":"3 nM","k":"q","fc":1.009,"lo":0.764,"hi":1.236},
{"m":"MHC-II","c":"10 nM","k":"med","fc":1.196,"lo":1.845,"hi":2.155},{"m":"MHC-II","c":"10 nM","k":"q","fc":1.329,"lo":1.739,"hi":2.261},{"m":"MHC-II","c":"10 nM","k":"q","fc":1.062,"lo":1.739,"hi":2.261},
{"m":"MHC-II","c":"30 nM","k":"med","fc":1.612,"lo":2.851,"hi":3.149},{"m":"MHC-II","c":"30 nM","k":"q","fc":1.64,"lo":2.764,"hi":3.236},{"m":"MHC-II","c":"30 nM","k":"q","fc":1.584,"lo":2.764,"hi":3.236}
]
},
"concat": [
{"spacing": 15, "vconcat": [
{"width": 2100, "height": 6, "view": {"fill": "#005AA9", "stroke": null}, "data": {"values": [{}]}, "mark": {"type": "text", "text": ""}, "encoding": {}},
{"spacing": 74,
 "hconcat": [
  {"width": 46, "height": 10, "data": {"values": [{}]}, "mark": {"type": "text", "text": ""}, "encoding": {},
   "title": {"text": "A", "anchor": "end", "font": "Liberation Sans", "fontSize": 36, "fontWeight": "bold", "color": "#7DC143", "offset": 14}},
  {"spacing": 188, "hconcat": [
  {"spacing": 164, "hconcat": [
   {"width": 263, "height": 263, "view": {"fill": "#FFFFFF", "stroke": null},
    "title": {"text": "CD163", "font": "Liberation Sans", "fontSize": 31, "fontWeight": "bold", "color": "#222222", "offset": 16},
    "resolve": {"axis": {"x": "independent"}},
    "layer": [
     {"data": {"name": "hist"}, "transform": [{"filter": "datum.m == 'CD163' && datum.s == '0 nM'"}],
      "mark": {"type": "area", "color": "#FF3C3C", "fillOpacity": 0.45, "line": {"color": "#FF3333", "strokeWidth": 1.6}},
      "encoding": {
       "x": {"field": "x", "type": "quantitative", "scale": {"type": "symlog", "constant": 1500, "domain": [-1730, 466800], "nice": false, "zero": false},
        "axis": {"orient": "bottom", "values": [-1000,-700,-400,-200,0,200,400,700,1000,2000,3000,4000,5000,6000,7000,8000,9000,10000,20000,30000,40000,50000,60000,70000,80000,90000,100000,200000,300000,400000], "labelExpr": "datum.value == 0 ? '0' : datum.value == 10000 ? '10⁴' : datum.value == 100000 ? '10⁵' : ''", "tickSize": {"condition": {"test": "datum.value == 0 || datum.value == 10000 || datum.value == 100000", "value": 7}, "value": 4}, "title": null, "labelFont": "Liberation Sans", "labelFontSize": 25, "labelPadding": 10, "labelFlush": false, "labelOverlap": false, "domainWidth": 1.5, "domainColor": "#222222", "tickColor": "#222222", "tickWidth": 1.3, "labelColor": "#222222"}},
       "y": {"field": "y", "type": "quantitative", "scale": {"domain": [0, 104.5], "nice": false, "zero": false},
        "axis": {"orient": "left", "values": [0,5,10,15,20,25,30,35,40,45,50,55,60,65,70,75,80,85,90,95,100], "labelExpr": "datum.value % 20 == 0 ? datum.label : ''", "tickSize": {"condition": {"test": "datum.value % 20 == 0", "value": 9}, "value": 4}, "title": "Normalized to Mode", "titleFont": "Liberation Sans", "titleFontSize": 26, "titleFontWeight": "bold", "titleColor": "#222222", "titlePadding": 12, "labelFont": "Liberation Sans", "labelFontSize": 25, "labelPadding": 3, "labelFlush": false, "labelOverlap": false, "domainWidth": 1.5, "domainColor": "#222222", "tickColor": "#222222", "tickWidth": 1.3, "labelColor": "#222222"}}
      }},
     {"data": {"name": "hist"}, "transform": [{"filter": "datum.m == 'CD163' && datum.s == '30 nM'"}],
      "mark": {"type": "area", "color": "#1EC8F0", "fillOpacity": 0.45, "line": {"color": "#1CC2EE", "strokeWidth": 1.6}},
      "encoding": {
       "x": {"field": "x", "type": "quantitative", "axis": {"orient": "top", "labels": false, "ticks": false, "title": null, "domainColor": "#555555", "domainWidth": 2}},
       "y": {"field": "y", "type": "quantitative"}
      }},
     {"data": {"values": [{}]}, "mark": {"type": "text", "text": "0 nM", "font": "Liberation Sans", "fontSize": 26, "fontWeight": "bold", "color": "#FF9F9F", "align": "left", "baseline": "alphabetic"},
      "encoding": {"x": {"datum": -519, "type": "quantitative", "axis": null}, "y": {"datum": 88.7, "type": "quantitative"}}},
     {"data": {"values": [{}]}, "mark": {"type": "text", "text": "30 nM", "font": "Liberation Sans", "fontSize": 26, "fontWeight": "bold", "color": "#94E6FF", "align": "left", "baseline": "alphabetic"},
      "encoding": {"x": {"datum": -519, "type": "quantitative", "axis": null}, "y": {"datum": 73.6, "type": "quantitative"}}}
    ]},
   {"width": 263, "height": 263, "view": {"fill": "#FFFFFF", "stroke": null},
    "title": {"text": "CD206", "font": "Liberation Sans", "fontSize": 31, "fontWeight": "bold", "color": "#222222", "offset": 16},
    "resolve": {"axis": {"x": "independent"}},
    "layer": [
     {"data": {"name": "hist"}, "transform": [{"filter": "datum.m == 'CD206' && datum.s == '0 nM'"}],
      "mark": {"type": "area", "color": "#FF3C3C", "fillOpacity": 0.45, "line": {"color": "#FF3333", "strokeWidth": 1.6}},
      "encoding": {
       "x": {"field": "x", "type": "quantitative", "scale": {"type": "symlog", "constant": 17100, "domain": [-14030, 1631000], "nice": false, "zero": false},
        "axis": {"orient": "bottom", "values": [-10000,-7000,-4000,-2000,0,2000,4000,7000,10000,20000,30000,40000,50000,60000,70000,80000,90000,100000,200000,300000,400000,500000,600000,700000,800000,900000,1000000], "labelExpr": "datum.value == 0 ? '0' : datum.value == 100000 ? '10⁵' : datum.value == 1000000 ? '10⁶' : ''", "tickSize": {"condition": {"test": "datum.value == 0 || datum.value == 100000 || datum.value == 1000000", "value": 7}, "value": 4}, "title": null, "labelFont": "Liberation Sans", "labelFontSize": 25, "labelPadding": 10, "labelFlush": false, "labelOverlap": false, "domainWidth": 1.5, "domainColor": "#222222", "tickColor": "#222222", "tickWidth": 1.3, "labelColor": "#222222"}},
       "y": {"field": "y", "type": "quantitative", "scale": {"domain": [0, 104.5], "nice": false, "zero": false},
        "axis": {"orient": "left", "values": [0,5,10,15,20,25,30,35,40,45,50,55,60,65,70,75,80,85,90,95,100], "labelExpr": "datum.value % 20 == 0 ? datum.label : ''", "tickSize": {"condition": {"test": "datum.value % 20 == 0", "value": 9}, "value": 4}, "title": "Normalized to Mode", "titleFont": "Liberation Sans", "titleFontSize": 26, "titleFontWeight": "bold", "titleColor": "#222222", "titlePadding": 12, "labelFont": "Liberation Sans", "labelFontSize": 25, "labelPadding": 3, "labelFlush": false, "labelOverlap": false, "domainWidth": 1.5, "domainColor": "#222222", "tickColor": "#222222", "tickWidth": 1.3, "labelColor": "#222222"}}
      }},
     {"data": {"name": "hist"}, "transform": [{"filter": "datum.m == 'CD206' && datum.s == '30 nM'"}],
      "mark": {"type": "area", "color": "#1EC8F0", "fillOpacity": 0.45, "line": {"color": "#1CC2EE", "strokeWidth": 1.6}},
      "encoding": {
       "x": {"field": "x", "type": "quantitative", "axis": {"orient": "top", "labels": false, "ticks": false, "title": null, "domainColor": "#555555", "domainWidth": 2}},
       "y": {"field": "y", "type": "quantitative"}
      }}
    ]}
  ]},
  {"spacing": 199, "hconcat": [
   {"width": 263, "height": 263, "view": {"fill": "#FFFFFF", "stroke": null},
    "title": {"text": "CD86", "font": "Liberation Sans", "fontSize": 31, "fontWeight": "bold", "color": "#222222", "offset": 16},
    "resolve": {"axis": {"x": "independent"}},
    "layer": [
     {"data": {"name": "hist"}, "transform": [{"filter": "datum.m == 'CD86' && datum.s == '0 nM'"}],
      "mark": {"type": "area", "color": "#FF3C3C", "fillOpacity": 0.45, "line": {"color": "#FF3333", "strokeWidth": 1.6}},
      "encoding": {
       "x": {"field": "x", "type": "quantitative", "scale": {"type": "symlog", "constant": 167, "domain": [-1623, 510000], "nice": false, "zero": false},
        "axis": {"orient": "bottom", "values": [-1000,-700,-400,-200,-100,0,100,200,400,700,1000,2000,3000,4000,5000,6000,7000,8000,9000,10000,20000,30000,40000,50000,60000,70000,80000,90000,100000,200000,300000,400000,500000], "labelExpr": "datum.value == 0 ? '0' : datum.value == 10000 ? '10⁴' : datum.value == 100000 ? '10⁵' : ''", "tickSize": {"condition": {"test": "datum.value == 0 || datum.value == 10000 || datum.value == 100000", "value": 7}, "value": 4}, "title": null, "labelFont": "Liberation Sans", "labelFontSize": 25, "labelPadding": 10, "labelFlush": false, "labelOverlap": false, "domainWidth": 1.5, "domainColor": "#222222", "tickColor": "#222222", "tickWidth": 1.3, "labelColor": "#222222"}},
       "y": {"field": "y", "type": "quantitative", "scale": {"domain": [0, 104.5], "nice": false, "zero": false},
        "axis": {"orient": "left", "values": [0,5,10,15,20,25,30,35,40,45,50,55,60,65,70,75,80,85,90,95,100], "labelExpr": "datum.value % 20 == 0 ? datum.label : ''", "tickSize": {"condition": {"test": "datum.value % 20 == 0", "value": 9}, "value": 4}, "title": "Normalized to Mode", "titleFont": "Liberation Sans", "titleFontSize": 26, "titleFontWeight": "bold", "titleColor": "#222222", "titlePadding": 12, "labelFont": "Liberation Sans", "labelFontSize": 25, "labelPadding": 3, "labelFlush": false, "labelOverlap": false, "domainWidth": 1.5, "domainColor": "#222222", "tickColor": "#222222", "tickWidth": 1.3, "labelColor": "#222222"}}
      }},
     {"data": {"name": "hist"}, "transform": [{"filter": "datum.m == 'CD86' && datum.s == '30 nM'"}],
      "mark": {"type": "area", "color": "#1EC8F0", "fillOpacity": 0.45, "line": {"color": "#1CC2EE", "strokeWidth": 1.6}},
      "encoding": {
       "x": {"field": "x", "type": "quantitative", "axis": {"orient": "top", "labels": false, "ticks": false, "title": null, "domainColor": "#555555", "domainWidth": 2}},
       "y": {"field": "y", "type": "quantitative"}
      }}
    ]},
   {"width": 263, "height": 263, "view": {"fill": "#FFFFFF", "stroke": null},
    "title": {"text": "MHC-II", "font": "Liberation Sans", "fontSize": 31, "fontWeight": "bold", "color": "#222222", "offset": 16},
    "resolve": {"axis": {"x": "independent"}},
    "layer": [
     {"data": {"name": "hist"}, "transform": [{"filter": "datum.m == 'MHC-II' && datum.s == '0 nM'"}],
      "mark": {"type": "area", "color": "#FF3C3C", "fillOpacity": 0.45, "line": {"color": "#FF3333", "strokeWidth": 1.6}},
      "encoding": {
       "x": {"field": "x", "type": "quantitative", "scale": {"type": "symlog", "constant": 8475, "domain": [-5060, 885600], "nice": false, "zero": false},
        "axis": {"orient": "bottom", "values": [-4000,-2000,-1000,0,1000,2000,3000,4000,5000,6000,7000,8000,9000,10000,20000,30000,40000,50000,60000,70000,80000,90000,100000,200000,300000,400000,500000,600000,700000,800000], "labelExpr": "datum.value == 0 ? '0' : datum.value == 10000 ? '10⁴' : datum.value == 100000 ? '10⁵' : ''", "tickSize": {"condition": {"test": "datum.value == 0 || datum.value == 10000 || datum.value == 100000", "value": 7}, "value": 4}, "title": null, "labelFont": "Liberation Sans", "labelFontSize": 25, "labelPadding": 10, "labelFlush": false, "labelOverlap": false, "domainWidth": 1.5, "domainColor": "#222222", "tickColor": "#222222", "tickWidth": 1.3, "labelColor": "#222222"}},
       "y": {"field": "y", "type": "quantitative", "scale": {"domain": [0, 104.5], "nice": false, "zero": false},
        "axis": {"orient": "left", "values": [0,5,10,15,20,25,30,35,40,45,50,55,60,65,70,75,80,85,90,95,100], "labelExpr": "datum.value % 20 == 0 ? datum.label : ''", "tickSize": {"condition": {"test": "datum.value % 20 == 0", "value": 9}, "value": 4}, "title": "Normalized to Mode", "titleFont": "Liberation Sans", "titleFontSize": 26, "titleFontWeight": "bold", "titleColor": "#222222", "titlePadding": 12, "labelFont": "Liberation Sans", "labelFontSize": 25, "labelPadding": 3, "labelFlush": false, "labelOverlap": false, "domainWidth": 1.5, "domainColor": "#222222", "tickColor": "#222222", "tickWidth": 1.3, "labelColor": "#222222"}}
      }},
     {"data": {"name": "hist"}, "transform": [{"filter": "datum.m == 'MHC-II' && datum.s == '30 nM'"}],
      "mark": {"type": "area", "color": "#1EC8F0", "fillOpacity": 0.45, "line": {"color": "#1CC2EE", "strokeWidth": 1.6}},
      "encoding": {
       "x": {"field": "x", "type": "quantitative", "axis": {"orient": "top", "labels": false, "ticks": false, "title": null, "domainColor": "#555555", "domainWidth": 2}},
       "y": {"field": "y", "type": "quantitative"}
      }}
    ]}
  ]}
 ]}
 ]}
]},
{"spacing": 59,
 "hconcat": [
  {"width": 44, "height": 10, "data": {"values": [{}]}, "mark": {"type": "text", "text": ""}, "encoding": {},
   "title": {"text": "B", "anchor": "end", "font": "Liberation Sans", "fontSize": 36, "fontWeight": "bold", "color": "#7DC143", "offset": -7}},
  {"spacing": 182, "hconcat": [
  {"spacing": 159, "hconcat": [
   {"width": 280, "height": 268,
    "layer": [
     {"data": {"name": "vio"}, "transform": [{"filter": "datum.m == 'CD163'"}],
      "mark": {"type": "area", "orient": "horizontal", "strokeWidth": 0},
      "encoding": {
       "y": {"field": "fc", "type": "quantitative", "scale": {"domain": [0, 2.5], "nice": false}, "axis": {"values": [0,0.5,1,1.5,2,2.5], "format": ".1f", "offset": -10, "tickSize": 10, "tickWidth": 2, "domainWidth": 2, "domainColor": "#111111", "tickColor": "#111111", "labelFont": "Liberation Sans", "labelFontSize": 24, "labelColor": "#111111", "labelPadding": 5, "title": "Fold Change", "titleFont": "Liberation Sans", "titleFontSize": 28, "titleFontWeight": "bold", "titleColor": "#111111", "titlePadding": 15, "labelFlush": false, "labelOverlap": false}},
       "x": {"field": "lo", "type": "quantitative", "scale": {"domain": [0.2, 3.675], "nice": false, "zero": false}, "axis": {"values": [1,2,3], "labelExpr": "datum.value == 1 ? '3 nM' : datum.value == 2 ? '10 nM' : '30 nM'", "tickSize": 10, "tickWidth": 2, "domainWidth": 2, "domainColor": "#111111", "tickColor": "#111111", "labelFont": "Liberation Sans", "labelFontSize": 24, "labelColor": "#111111", "labelPadding": 13, "title": null, "labelFlush": false}},
       "x2": {"field": "hi"},
       "fill": {"field": "c", "type": "nominal", "scale": {"domain": ["3 nM","10 nM","30 nM"], "range": ["#B5C9E6","#D3E8C4","#E6C5C6"]}, "legend": null}
      }},
     {"data": {"values": [{}]}, "mark": {"type": "rule", "color": "#111111", "strokeWidth": 2, "strokeDash": [6, 5]},
      "encoding": {"x": {"datum": 0.33, "type": "quantitative"}, "x2": {"datum": 3.62}, "y": {"datum": 1, "type": "quantitative"}}},
     {"data": {"name": "vio"}, "transform": [{"filter": "datum.m == 'CD163'"}],
      "mark": {"type": "area", "orient": "horizontal", "fillOpacity": 0, "strokeWidth": 5, "strokeJoin": "round"},
      "encoding": {"y": {"field": "fc", "type": "quantitative"}, "x": {"field": "lo", "type": "quantitative"}, "x2": {"field": "hi"},
       "stroke": {"field": "c", "type": "nominal", "scale": {"domain": ["3 nM","10 nM","30 nM"], "range": ["#0A5CAB","#7DC243","#992A16"]}, "legend": null}}},
     {"data": {"name": "stat"}, "transform": [{"filter": "datum.m == 'CD163' && datum.k == 'med'"}],
      "mark": {"type": "rule", "color": "#000000", "strokeWidth": 2.5, "strokeDash": [5, 4]},
      "encoding": {"y": {"field": "fc", "type": "quantitative"}, "x": {"field": "lo", "type": "quantitative"}, "x2": {"field": "hi"}}},
     {"data": {"name": "stat"}, "transform": [{"filter": "datum.m == 'CD163' && datum.k == 'q'"}],
      "mark": {"type": "rule", "color": "#D42A1E", "strokeWidth": 2, "strokeDash": [2, 4]},
      "encoding": {"y": {"field": "fc", "type": "quantitative"}, "x": {"field": "lo", "type": "quantitative"}, "x2": {"field": "hi"}}}
    ]},
   {"width": 280, "height": 268,
    "layer": [
     {"data": {"name": "vio"}, "transform": [{"filter": "datum.m == 'CD206'"}],
      "mark": {"type": "area", "orient": "horizontal", "strokeWidth": 0},
      "encoding": {
       "y": {"field": "fc", "type": "quantitative", "scale": {"domain": [0, 2.5], "nice": false}, "axis": {"values": [0,0.5,1,1.5,2,2.5], "format": ".1f", "offset": -10, "tickSize": 10, "tickWidth": 2, "domainWidth": 2, "domainColor": "#111111", "tickColor": "#111111", "labelFont": "Liberation Sans", "labelFontSize": 24, "labelColor": "#111111", "labelPadding": 5, "title": "Fold Change", "titleFont": "Liberation Sans", "titleFontSize": 28, "titleFontWeight": "bold", "titleColor": "#111111", "titlePadding": 15, "labelFlush": false, "labelOverlap": false}},
       "x": {"field": "lo", "type": "quantitative", "scale": {"domain": [0.2, 3.675], "nice": false, "zero": false}, "axis": {"values": [1,2,3], "labelExpr": "datum.value == 1 ? '3 nM' : datum.value == 2 ? '10 nM' : '30 nM'", "tickSize": 10, "tickWidth": 2, "domainWidth": 2, "domainColor": "#111111", "tickColor": "#111111", "labelFont": "Liberation Sans", "labelFontSize": 24, "labelColor": "#111111", "labelPadding": 13, "title": null, "labelFlush": false}},
       "x2": {"field": "hi"},
       "fill": {"field": "c", "type": "nominal", "scale": {"domain": ["3 nM","10 nM","30 nM"], "range": ["#B5C9E6","#D3E8C4","#E6C5C6"]}, "legend": null}
      }},
     {"data": {"values": [{}]}, "mark": {"type": "rule", "color": "#111111", "strokeWidth": 2, "strokeDash": [6, 5]},
      "encoding": {"x": {"datum": 0.33, "type": "quantitative"}, "x2": {"datum": 3.62}, "y": {"datum": 1, "type": "quantitative"}}},
     {"data": {"name": "vio"}, "transform": [{"filter": "datum.m == 'CD206'"}],
      "mark": {"type": "area", "orient": "horizontal", "fillOpacity": 0, "strokeWidth": 5, "strokeJoin": "round"},
      "encoding": {"y": {"field": "fc", "type": "quantitative"}, "x": {"field": "lo", "type": "quantitative"}, "x2": {"field": "hi"},
       "stroke": {"field": "c", "type": "nominal", "scale": {"domain": ["3 nM","10 nM","30 nM"], "range": ["#0A5CAB","#7DC243","#992A16"]}, "legend": null}}},
     {"data": {"name": "stat"}, "transform": [{"filter": "datum.m == 'CD206' && datum.k == 'med'"}],
      "mark": {"type": "rule", "color": "#000000", "strokeWidth": 2.5, "strokeDash": [5, 4]},
      "encoding": {"y": {"field": "fc", "type": "quantitative"}, "x": {"field": "lo", "type": "quantitative"}, "x2": {"field": "hi"}}},
     {"data": {"name": "stat"}, "transform": [{"filter": "datum.m == 'CD206' && datum.k == 'q'"}],
      "mark": {"type": "rule", "color": "#D42A1E", "strokeWidth": 2, "strokeDash": [2, 4]},
      "encoding": {"y": {"field": "fc", "type": "quantitative"}, "x": {"field": "lo", "type": "quantitative"}, "x2": {"field": "hi"}}},
     {"data": {"values": [{}]}, "mark": {"type": "text", "text": "*", "fontSize": 22, "fontWeight": "bold", "color": "#111111", "baseline": "alphabetic"},
      "encoding": {"x": {"datum": 3, "type": "quantitative"}, "y": {"datum": 2.33, "type": "quantitative"}}}
    ]}
  ]},
  {"spacing": 200, "hconcat": [
   {"width": 280, "height": 268,
    "layer": [
     {"data": {"name": "vio"}, "transform": [{"filter": "datum.m == 'CD86'"}],
      "mark": {"type": "area", "orient": "horizontal", "strokeWidth": 0},
      "encoding": {
       "y": {"field": "fc", "type": "quantitative", "scale": {"domain": [0, 2.5], "nice": false}, "axis": {"values": [0,0.5,1,1.5,2,2.5], "format": ".1f", "offset": -10, "tickSize": 10, "tickWidth": 2, "domainWidth": 2, "domainColor": "#111111", "tickColor": "#111111", "labelFont": "Liberation Sans", "labelFontSize": 24, "labelColor": "#111111", "labelPadding": 5, "title": "Fold Change", "titleFont": "Liberation Sans", "titleFontSize": 28, "titleFontWeight": "bold", "titleColor": "#111111", "titlePadding": 15, "labelFlush": false, "labelOverlap": false}},
       "x": {"field": "lo", "type": "quantitative", "scale": {"domain": [0.2, 3.675], "nice": false, "zero": false}, "axis": {"values": [1,2,3], "labelExpr": "datum.value == 1 ? '3 nM' : datum.value == 2 ? '10 nM' : '30 nM'", "tickSize": 10, "tickWidth": 2, "domainWidth": 2, "domainColor": "#111111", "tickColor": "#111111", "labelFont": "Liberation Sans", "labelFontSize": 24, "labelColor": "#111111", "labelPadding": 13, "title": null, "labelFlush": false}},
       "x2": {"field": "hi"},
       "fill": {"field": "c", "type": "nominal", "scale": {"domain": ["3 nM","10 nM","30 nM"], "range": ["#B5C9E6","#D3E8C4","#E6C5C6"]}, "legend": null}
      }},
     {"data": {"values": [{}]}, "mark": {"type": "rule", "color": "#111111", "strokeWidth": 2, "strokeDash": [6, 5]},
      "encoding": {"x": {"datum": 0.33, "type": "quantitative"}, "x2": {"datum": 3.62}, "y": {"datum": 1, "type": "quantitative"}}},
     {"data": {"name": "vio"}, "transform": [{"filter": "datum.m == 'CD86'"}],
      "mark": {"type": "area", "orient": "horizontal", "fillOpacity": 0, "strokeWidth": 5, "strokeJoin": "round"},
      "encoding": {"y": {"field": "fc", "type": "quantitative"}, "x": {"field": "lo", "type": "quantitative"}, "x2": {"field": "hi"},
       "stroke": {"field": "c", "type": "nominal", "scale": {"domain": ["3 nM","10 nM","30 nM"], "range": ["#0A5CAB","#7DC243","#992A16"]}, "legend": null}}},
     {"data": {"name": "stat"}, "transform": [{"filter": "datum.m == 'CD86' && datum.k == 'med'"}],
      "mark": {"type": "rule", "color": "#000000", "strokeWidth": 2.5, "strokeDash": [5, 4]},
      "encoding": {"y": {"field": "fc", "type": "quantitative"}, "x": {"field": "lo", "type": "quantitative"}, "x2": {"field": "hi"}}},
     {"data": {"name": "stat"}, "transform": [{"filter": "datum.m == 'CD86' && datum.k == 'q'"}],
      "mark": {"type": "rule", "color": "#D42A1E", "strokeWidth": 2, "strokeDash": [2, 4]},
      "encoding": {"y": {"field": "fc", "type": "quantitative"}, "x": {"field": "lo", "type": "quantitative"}, "x2": {"field": "hi"}}}
    ]},
   {"width": 280, "height": 268,
    "layer": [
     {"data": {"name": "vio"}, "transform": [{"filter": "datum.m == 'MHC-II'"}],
      "mark": {"type": "area", "orient": "horizontal", "strokeWidth": 0},
      "encoding": {
       "y": {"field": "fc", "type": "quantitative", "scale": {"domain": [0, 2.5], "nice": false}, "axis": {"values": [0,0.5,1,1.5,2,2.5], "format": ".1f", "offset": -10, "tickSize": 10, "tickWidth": 2, "domainWidth": 2, "domainColor": "#111111", "tickColor": "#111111", "labelFont": "Liberation Sans", "labelFontSize": 24, "labelColor": "#111111", "labelPadding": 5, "title": "Fold Change", "titleFont": "Liberation Sans", "titleFontSize": 28, "titleFontWeight": "bold", "titleColor": "#111111", "titlePadding": 15, "labelFlush": false, "labelOverlap": false}},
       "x": {"field": "lo", "type": "quantitative", "scale": {"domain": [0.2, 3.675], "nice": false, "zero": false}, "axis": {"values": [1,2,3], "labelExpr": "datum.value == 1 ? '3 nM' : datum.value == 2 ? '10 nM' : '30 nM'", "tickSize": 10, "tickWidth": 2, "domainWidth": 2, "domainColor": "#111111", "tickColor": "#111111", "labelFont": "Liberation Sans", "labelFontSize": 24, "labelColor": "#111111", "labelPadding": 13, "title": null, "labelFlush": false}},
       "x2": {"field": "hi"},
       "fill": {"field": "c", "type": "nominal", "scale": {"domain": ["3 nM","10 nM","30 nM"], "range": ["#B5C9E6","#D3E8C4","#E6C5C6"]}, "legend": null}
      }},
     {"data": {"values": [{}]}, "mark": {"type": "rule", "color": "#111111", "strokeWidth": 2, "strokeDash": [6, 5]},
      "encoding": {"x": {"datum": 0.33, "type": "quantitative"}, "x2": {"datum": 3.62}, "y": {"datum": 1, "type": "quantitative"}}},
     {"data": {"name": "vio"}, "transform": [{"filter": "datum.m == 'MHC-II'"}],
      "mark": {"type": "area", "orient": "horizontal", "fillOpacity": 0, "strokeWidth": 5, "strokeJoin": "round"},
      "encoding": {"y": {"field": "fc", "type": "quantitative"}, "x": {"field": "lo", "type": "quantitative"}, "x2": {"field": "hi"},
       "stroke": {"field": "c", "type": "nominal", "scale": {"domain": ["3 nM","10 nM","30 nM"], "range": ["#0A5CAB","#7DC243","#992A16"]}, "legend": null}}},
     {"data": {"name": "stat"}, "transform": [{"filter": "datum.m == 'MHC-II' && datum.k == 'med'"}],
      "mark": {"type": "rule", "color": "#000000", "strokeWidth": 2.5, "strokeDash": [5, 4]},
      "encoding": {"y": {"field": "fc", "type": "quantitative"}, "x": {"field": "lo", "type": "quantitative"}, "x2": {"field": "hi"}}},
     {"data": {"name": "stat"}, "transform": [{"filter": "datum.m == 'MHC-II' && datum.k == 'q'"}],
      "mark": {"type": "rule", "color": "#D42A1E", "strokeWidth": 2, "strokeDash": [2, 4]},
      "encoding": {"y": {"field": "fc", "type": "quantitative"}, "x": {"field": "lo", "type": "quantitative"}, "x2": {"field": "hi"}}},
     {"data": {"values": [{}]}, "mark": {"type": "text", "text": "*", "fontSize": 22, "fontWeight": "bold", "color": "#111111", "baseline": "alphabetic"},
      "encoding": {"x": {"datum": 3, "type": "quantitative"}, "y": {"datum": 1.80, "type": "quantitative"}}}
    ]}
  ]}
 ]}
 ]}
],
"columns": 1,
"align": "none",
"spacing": 20
}
